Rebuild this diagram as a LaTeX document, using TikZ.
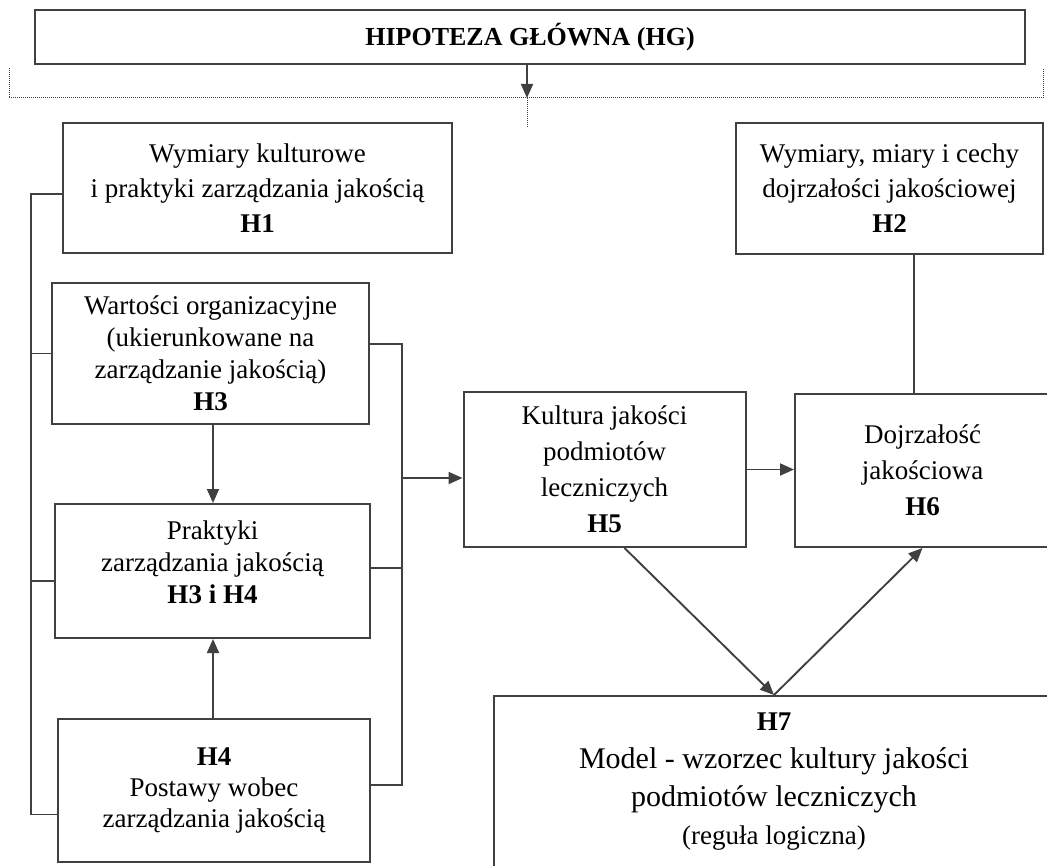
\documentclass[tikz,border=0pt]{standalone}
\usepackage{fontspec}
\setmainfont{Liberation Serif}
\usetikzlibrary{arrows.meta}

\begin{document}
\begin{tikzpicture}[x=1pt,y=-1pt,
  box/.style={draw=black!75,line width=2pt,align=center,inner sep=0pt},
  link/.style={draw=black!75,line width=1.9pt},
  arr/.style={link,-{Triangle[length=14pt,width=12pt]}},
  dots/.style={draw=black!75,line width=1pt,dash pattern=on 1pt off 1pt}]

\clip (0,0) rectangle (1047,866);

% main hypothesis
\node[box,minimum width=990,minimum height=54,font=\fontsize{26}{30}\selectfont\bfseries] (hg) at (530,37) {HIPOTEZA GŁÓWNA (HG)};

% dotted brace
\coordinate (brc) at (527,98);
\draw[arr] (hg.south -| brc) -- (brc);
\draw[dots] (9,68) |- (1043,98) -- (1043,68);
\draw[dots] (brc) -- (527,127);

% upper boxes
\node[box,minimum width=389,minimum height=130,font=\fontsize{27}{35}\selectfont] (h1) at (257.5,188)
  {Wymiary kulturowe\\ i praktyki zarządzania jakością\\ \textbf{H1}};
\node[box,minimum width=307,minimum height=131,font=\fontsize{27}{35}\selectfont] (h2) at (889.5,188.5)
  {Wymiary, miary i cechy\\ dojrzałości jakościowej\\ \textbf{H2}};

% left column
\node[box,minimum width=317,minimum height=141,font=\fontsize{27}{32}\selectfont] (h3) at (210.5,353.5)
  {Wartości organizacyjne\\ (ukierunkowane na\\ zarządzanie jakością)\\ \textbf{H3}};
\node[box,minimum width=315,minimum height=134,font=\fontsize{27}{32}\selectfont] (h34) at (212.5,571)
  {Praktyki\\ zarządzania jakością\\ \textbf{H3 i H4}\\[-14pt]\mbox{}};
\node[box,minimum width=312,minimum height=143,font=\fontsize{27}{31}\selectfont] (h4) at (214,790.5)
  {\textbf{H4}\\ Postawy wobec\\ zarządzania jakością};

% middle and right
\node[box,minimum width=282,minimum height=155,font=\fontsize{27}{36}\selectfont] (h5) at (604.5,469.5)
  {Kultura jakości\\ podmiotów\\ leczniczych\\ \textbf{H5}};
\node[box,minimum width=255,minimum height=153,font=\fontsize{27}{36}\selectfont] (h6) at (922.5,470.5)
  {Dojrzałość\\ jakościowa\\ \textbf{H6}};

% model box
\node[box,minimum width=560,minimum height=172,font=\fontsize{30}{38}\selectfont] (h7) at (774,782)
  {{\fontsize{27}{38}\selectfont\textbf{H7}}\\ Model - wzorzec kultury jakości\\ podmiotów leczniczych\\
   {\fontsize{27}{38}\selectfont(reguła logiczna)}};

% left bracket
\coordinate (lbar) at (31,0);
\coordinate (t1) at ([yshift=-6pt]h1.west);
\coordinate (t34) at ([yshift=-10pt]h34.west);
\coordinate (t4) at ([yshift=-24pt]h4.west);
\draw[link] (t1) -- (t1 -| lbar) -- (t4 -| lbar) -- (t4);
\draw[link] (h3.west) -- (h3.west -| lbar);
\draw[link] (t34) -- (t34 -| lbar);

% vertical arrows in left column
\draw[arr] (h3.south -| 213,0) -- (h34.north -| 213,0);
\draw[arr] (h4.north -| 213,0) -- (h34.south -| 213,0);

% right bracket
\coordinate (rbar) at (402,0);
\coordinate (r3) at ([yshift=9.5pt]h3.east);
\coordinate (r34) at ([yshift=3pt]h34.east);
\coordinate (r4) at ([yshift=5.5pt]h4.east);
\coordinate (r5) at ([yshift=-8.5pt]h5.west);
\draw[link] (r3) -- (r3 -| rbar) -- (r4 -| rbar) -- (r4);
\draw[link] (r34) -- (r34 -| rbar);
\draw[arr] (r5 -| rbar) -- (r5);

% culture to maturity
\draw[arr] (h5.east) -- (h5.east -| h6.west);
\coordinate (m2) at ([xshift=-8.5pt]h6.north);
\draw[link] (m2) -- (m2 |- h2.south);

% model links
\draw[arr] ([xshift=20pt]h5.south) -- (h7.north);
\draw[arr] (h7.north) -- (h6.south);

\end{tikzpicture}
\end{document}
